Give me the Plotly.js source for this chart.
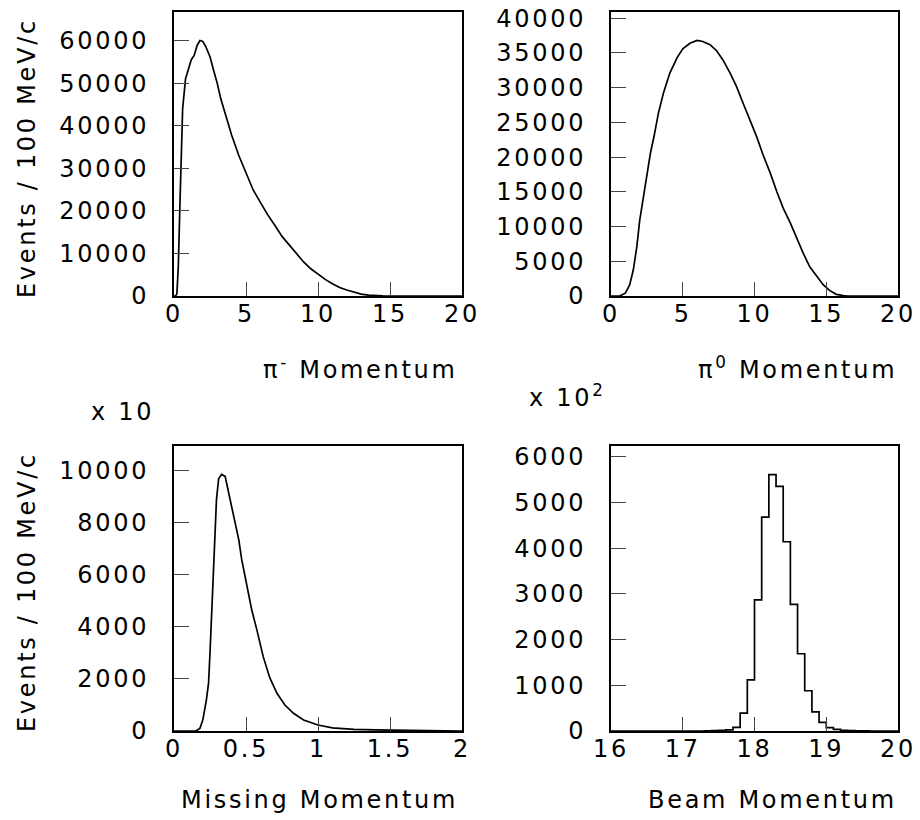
<!DOCTYPE html>
<html>
<head>
<meta charset="utf-8">
<script src="https://cdn.plot.ly/plotly-3.0.1.min.js"></script>
<style>
  html, body { margin: 0; padding: 0; background: #fff; }
  svg text { letter-spacing: 2.7px; }
</style>
</head>
<body>
<div id="chart" style="width:920px;height:820px;"></div>
<script>
// ---- Data ----
// pi- momentum (GeV/c) vs events / 100 MeV/c
const pimX = [0, 0.1, 0.2, 0.3, 0.4, 0.5, 0.6, 0.8, 1.0, 1.2, 1.4, 1.6, 1.8, 2.0, 2.2, 2.5, 2.75, 3.0, 3.25, 3.5, 4.0, 4.5, 5.0, 5.5, 6.0, 6.5, 7.0, 7.5, 8.0, 8.5, 9.0, 9.5, 10.0, 10.5, 11.0, 11.5, 12.0, 12.5, 13.0, 13.5, 14.0, 14.5, 15, 20];
const pimY = [0, 0, 500, 7000, 20000, 34000, 44000, 51000, 53500, 55500, 56500, 58800, 60000, 59800, 58600, 56200, 53000, 50000, 46300, 43500, 37800, 33000, 28900, 24900, 22000, 19100, 16600, 14000, 12000, 10100, 8000, 6400, 5100, 3900, 2900, 2000, 1400, 850, 450, 200, 70, 10, 0, 0];

// pi0 momentum
const pi0X = [0, 0.6, 1.0, 1.3, 1.55, 1.8, 2.0, 2.25, 2.5, 2.75, 3.0, 3.3, 3.65, 4.1, 4.6, 5.0, 5.5, 6.0, 6.4, 6.9, 7.35, 7.8, 8.3, 8.75, 9.2, 9.7, 10.15, 10.6, 11.1, 11.55, 12.0, 12.5, 12.95, 13.4, 13.85, 14.35, 14.8, 15.25, 15.7, 16.2, 16.5, 20];
const pi0Y = [0, 0, 400, 1600, 3700, 7100, 10900, 14300, 17700, 20600, 23000, 26300, 29200, 32100, 34300, 35600, 36400, 36800, 36650, 36200, 35350, 34000, 32100, 30150, 27800, 25350, 22950, 20300, 17700, 15050, 12650, 10500, 8300, 6150, 4200, 2800, 1600, 770, 240, 50, 0, 0];

// missing momentum (counts x 10)
const missX = [0, 0.15, 0.18, 0.2, 0.225, 0.24, 0.25, 0.26, 0.275, 0.285, 0.295, 0.31, 0.33, 0.355, 0.375, 0.4, 0.425, 0.45, 0.47, 0.505, 0.54, 0.575, 0.62, 0.665, 0.715, 0.77, 0.83, 0.9, 1.0, 1.1, 1.25, 1.4, 1.65, 1.9, 2.0];
const missY = [0, 0, 100, 420, 1200, 1850, 3000, 4300, 5950, 7600, 8900, 9700, 9870, 9790, 9300, 8650, 8000, 7350, 6600, 5550, 4650, 3900, 2850, 2050, 1450, 1000, 680, 420, 230, 120, 65, 40, 15, 0, 0];

// beam momentum histogram (counts x 10^2), bin lower edges, width 0.1
const beamEdges  = [17.3, 17.4, 17.5, 17.6, 17.7, 17.8, 17.9, 18.0, 18.1, 18.2, 18.3, 18.4, 18.5, 18.6, 18.7, 18.8, 18.9, 19.0, 19.1, 19.2, 19.3, 19.4, 19.5];
const beamCounts = [5, 10, 15, 25, 80, 390, 1120, 2870, 4680, 5610, 5350, 4140, 2770, 1690, 880, 420, 190, 75, 35, 15, 8, 4, 2];
const beamBinWidth = 0.1;

// titles
const yTitle = "Events / 100 MeV/c";
const xTitles = ["π<sup>-</sup> Momentum", "π<sup>0</sup> Momentum", "Missing Momentum", "Beam Momentum"];

// ---- Build step trace for beam histogram ----
const bx = [16].concat(beamEdges, [beamEdges[beamEdges.length - 1] + beamBinWidth, 20]);
const by = [0].concat(beamCounts, [0, 0]);

const FONT = "DejaVu Sans, Verdana, sans-serif";
const lineStyle = { color: "black", width: 1.7 };

const traces = [
  { x: pimX, y: pimY, xaxis: "x", yaxis: "y", mode: "lines", line: lineStyle, hoverinfo: "skip" },
  { x: pi0X, y: pi0Y, xaxis: "x2", yaxis: "y2", mode: "lines", line: lineStyle, hoverinfo: "skip" },
  { x: missX, y: missY, xaxis: "x3", yaxis: "y3", mode: "lines", line: lineStyle, hoverinfo: "skip" },
  { x: bx, y: by, xaxis: "x4", yaxis: "y4", mode: "lines", line: Object.assign({ shape: "hv" }, lineStyle), hoverinfo: "skip" }
];

function xa(domain, range, dtick, anchor) {
  return {
    domain: domain, range: range, dtick: dtick, tick0: range[0], anchor: anchor,
    ticks: "inside", ticklen: 14, tickwidth: 1, tickcolor: "#444",
    showline: true, linecolor: "black", linewidth: 2, mirror: true,
    showgrid: false, zeroline: false, fixedrange: true,
    tickfont: { family: FONT, size: 24, color: "black" },
    ticklabelstandoff: -5
  };
}
function ya(domain, range, dtick, anchor) {
  return {
    domain: domain, range: range, dtick: dtick, tick0: 0, anchor: anchor,
    ticks: "inside", ticklen: 15, tickwidth: 1, tickcolor: "#444",
    showline: true, linecolor: "black", linewidth: 2, mirror: true,
    showgrid: false, zeroline: false, fixedrange: true, tickformat: "d",
    tickfont: { family: FONT, size: 24, color: "black" },
    ticklabelstandoff: 18
  };
}

const W = 920, H = 820;
const px = v => v / W, py = v => 1 - v / H;

const dxL = [px(174), px(462)], dxR = [px(611), px(898)];
const dyT = [py(296), py(12)], dyB = [py(731), py(446)];

const annFont = { family: FONT, size: 24, color: "black" };
const annotations = [
  { text: yTitle, xref: "paper", yref: "paper", x: px(27), y: py(158), textangle: -90, showarrow: false, xanchor: "center", yanchor: "middle", font: annFont },
  { text: yTitle, xref: "paper", yref: "paper", x: px(27), y: py(592), textangle: -90, showarrow: false, xanchor: "center", yanchor: "middle", font: annFont },
  { text: xTitles[0], xref: "paper", yref: "paper", x: px(460), y: py(368), showarrow: false, xanchor: "right", yanchor: "middle", font: annFont },
  { text: xTitles[1], xref: "paper", yref: "paper", x: px(899), y: py(368), showarrow: false, xanchor: "right", yanchor: "middle", font: annFont },
  { text: xTitles[2], xref: "paper", yref: "paper", x: px(460), y: py(800), showarrow: false, xanchor: "right", yanchor: "middle", font: annFont },
  { text: xTitles[3], xref: "paper", yref: "paper", x: px(899), y: py(800), showarrow: false, xanchor: "right", yanchor: "middle", font: annFont },
  { text: "x 10", xref: "paper", yref: "paper", x: px(156), y: py(412), showarrow: false, xanchor: "right", yanchor: "middle", font: annFont },
  { text: "x 10<sup>2</sup>", xref: "paper", yref: "paper", x: px(527), y: py(396), showarrow: false, xanchor: "left", yanchor: "middle", font: annFont }
];

const layout = {
  width: W, height: H,
  margin: { l: 0, r: 0, t: 0, b: 0 },
  paper_bgcolor: "white", plot_bgcolor: "white",
  showlegend: false,
  font: { family: FONT, size: 24, color: "black" },
  xaxis: xa(dxL, [0, 20], 5, "y"),
  yaxis: ya(dyT, [0, 66700], 10000, "x"),
  xaxis2: xa(dxR, [0, 20], 5, "y2"),
  yaxis2: ya(dyT, [0, 40900], 5000, "x2"),
  xaxis3: xa(dxL, [0, 2], 0.5, "y3"),
  yaxis3: ya(dyB, [0, 10960], 2000, "x3"),
  xaxis4: xa(dxR, [16, 20], 1, "y4"),
  yaxis4: ya(dyB, [0, 6234], 1000, "x4"),
  annotations: annotations
};

Plotly.newPlot("chart", traces, layout, { staticPlot: true, displayModeBar: false });
</script>
</body>
</html>
